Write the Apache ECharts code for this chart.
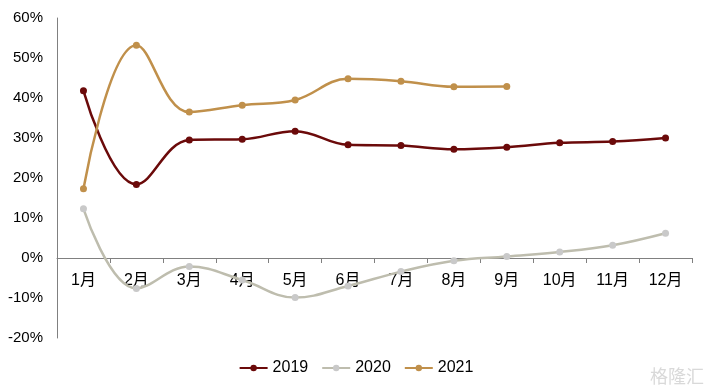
<!DOCTYPE html>
<html><head><meta charset="utf-8">
<script src="https://cdn.jsdelivr.net/npm/echarts@6/dist/echarts.min.js"></script>
<style>html,body{margin:0;padding:0;background:#fff}#c{width:712px;height:391px}</style>
</head><body><div id="c"></div>
<script>
const categories = ['1月','2月','3月','4月','5月','6月','7月','8月','9月','10月','11月','12月'];
const s2019 = [41.8, 18.4, 29.5, 29.7, 31.7, 28.3, 28.1, 27.2, 27.7, 28.8, 29.1, 30.0];
const s2020 = [12.3, -7.6, -2.1, -5.5, -9.9, -7.0, -3.4, -0.7, 0.4, 1.5, 3.2, 6.2];
const s2021 = [17.3, 53.2, 36.5, 38.2, 39.5, 44.8, 44.2, 42.8, 42.9, null, null, null];
const yTicks = {min: -20, max: 60, interval: 10};

const font = '"Liberation Sans","Noto Sans CJK SC",sans-serif';
const chart = echarts.init(document.getElementById('c'));
function ser(name, data, lineColor, markColor) {
  return {name, type:'line', data, smooth:0.4, symbol:'circle', symbolSize:7,
    lineStyle:{color:lineColor, width:2.5}, itemStyle:{color:markColor},
    emphasis:{disabled:true}};
}
chart.setOption({
  animation:false,
  grid:{left:57, right:20, top:18, bottom:53},
  legend:{bottom:10, left:'center', itemWidth:28, itemHeight:8, itemGap:13,
    textStyle:{fontSize:16, color:'#000', fontFamily:font},
    data:['2019','2020','2021']},
  xAxis:{type:'category', data:categories, boundaryGap:true,
    axisLine:{onZero:true, lineStyle:{color:'#808080', width:1}},
    axisTick:{show:true, length:5, lineStyle:{color:'#808080'}},
    axisLabel:{color:'#000', fontSize:16, margin:-65, fontFamily:font}},
  yAxis:{type:'value', min:yTicks.min, max:yTicks.max, interval:yTicks.interval,
    splitLine:{show:false},
    axisLine:{show:true, lineStyle:{color:'#808080', width:1}},
    axisTick:{show:false},
    axisLabel:{color:'#000', fontSize:15, margin:14, fontFamily:font, formatter:v=>v+'%'}},
  graphic:[{type:'text', right:8, bottom:6, style:{text:'格隆汇', fontSize:18, fill:'#d9d9d9', fontFamily:'"Noto Sans CJK SC"'}}],
  series:[
    ser('2019', s2019, '#6B0A0A', '#6B0A0A'),
    ser('2020', s2020, '#BEBDAE', '#C9C9C9'),
    ser('2021', s2021, '#C0904B', '#C0904B')
  ]
});
</script></body></html>
